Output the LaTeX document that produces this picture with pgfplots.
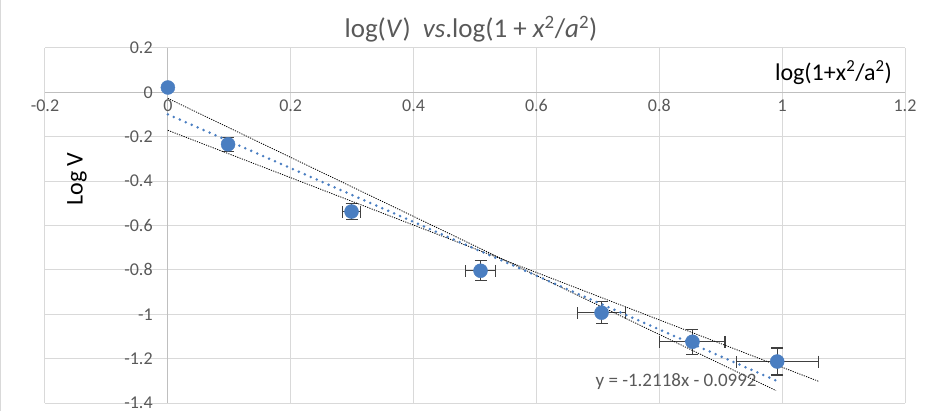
\documentclass[border=0pt]{standalone}
\usepackage{fontspec}
\setmainfont{Carlito}
\usepackage{pgfplots}
\pgfplotsset{compat=1.18}
\usetikzlibrary{calc}
\definecolor{xlblue}{RGB}{74,126,193}
\definecolor{xlgray}{RGB}{89,89,89}
\definecolor{gridgray}{RGB}{217,217,217}
\definecolor{axgray}{RGB}{191,191,191}

\begin{document}
\begin{tikzpicture}
\begin{axis}[
    name=ax,
    scale only axis,
    width=860bp, height=355bp,
    xmin=-0.2, xmax=1.2, ymin=-1.4, ymax=0.2,
    axis x line=middle, axis y line=middle,
    axis line style={-, draw=axgray, line width=1bp},
    xtick={-0.2,0,0.2,0.4,0.6,0.8,1,1.2},
    ytick={-1.4,-1.2,-1,-0.8,-0.6,-0.4,-0.2,0,0.2},
    hide obscured x ticks=false, hide obscured y ticks=false,
    major tick length=0pt,
    grid=major, grid style={draw=gridgray, line width=1bp},
    /pgf/number format/assume math mode=true,
    tick label style={font=\fontsize{18bp}{21bp}\selectfont, text=xlgray, inner sep=0pt},
    xticklabel style={anchor=north, yshift=-7bp},
    yticklabel style={anchor=east, xshift=-15bp},
    clip=false,
]
% error bars first, markers on top
\addplot[draw=none, mark=none, forget plot,
    error bars/.cd, x dir=both, x explicit, y dir=both, y explicit,
    error bar style={draw=black!75, line width=1.1bp},
    error mark options={draw=black!75, line width=1.1bp, mark size=6bp, rotate=90}]
    table[x=x, y=y, x error=ex, y error=ey] {
x      y       ex     ey
0.098  -0.234  0.000  0.031
0.299  -0.537  0.014  0.037
0.509  -0.804  0.024  0.045
0.706  -0.993  0.039  0.049
0.854  -1.124  0.053  0.056
0.992  -1.213  0.067  0.061
};
\addplot[only marks, mark=*, mark size=7bp, color=xlblue]
    table[x=x, y=y] {
x      y
0.000   0.022
0.098  -0.234
0.299  -0.537
0.509  -0.804
0.706  -0.993
0.854  -1.124
0.992  -1.213
};
% steepest / shallowest lines
\addplot[black, line width=0.8bp, dash pattern=on 1.2bp off 1.2bp]
    coordinates {(0,-0.027) (0.990,-1.344)};
\addplot[black, line width=0.8bp, dash pattern=on 1.2bp off 1.2bp]
    coordinates {(0,-0.171) (1.060,-1.303)};
% linear trendline
\addplot[xlblue, line width=2.8bp, line cap=round, dash pattern=on 0bp off 6.5bp]
    coordinates {(0,-0.0992) (0.992,-1.3013)};

\node[anchor=west, text=xlgray, font=\fontsize{19bp}{22bp}\selectfont, inner sep=0pt]
    at (axis cs:0.696,-1.303) {y = -1.2118x - 0.0992};
\node[anchor=east, font=\fontsize{24bp}{28bp}\selectfont, inner sep=0pt]
    at (axis cs:1.179,0.09) {log(1+x\textsuperscript{2}/a\textsuperscript{2})};
\node[rotate=90, font=\fontsize{24bp}{28bp}\selectfont, inner sep=0pt]
    at (axis cs:-0.148,-0.391) {Log V};
\end{axis}
\node[text=xlgray, font=\fontsize{27bp}{32bp}\selectfont, inner sep=0pt]
    at ($(ax.north)+(-4bp,19bp)$)
    {log(\textit{V})\ \ \textit{vs}.log(1 + \textit{x}\textsuperscript{2}/\textit{a}\textsuperscript{2})};
\draw[gridgray, line width=1bp] ($(ax.south west)+(-44bp,-8bp)$) -- ($(ax.north west)+(-44bp,48bp)$);
\pgfresetboundingbox
\path ($(ax.south west)+(-45bp,-8bp)$) rectangle ($(ax.north east)+(30bp,48bp)$);
\end{tikzpicture}
\end{document}
